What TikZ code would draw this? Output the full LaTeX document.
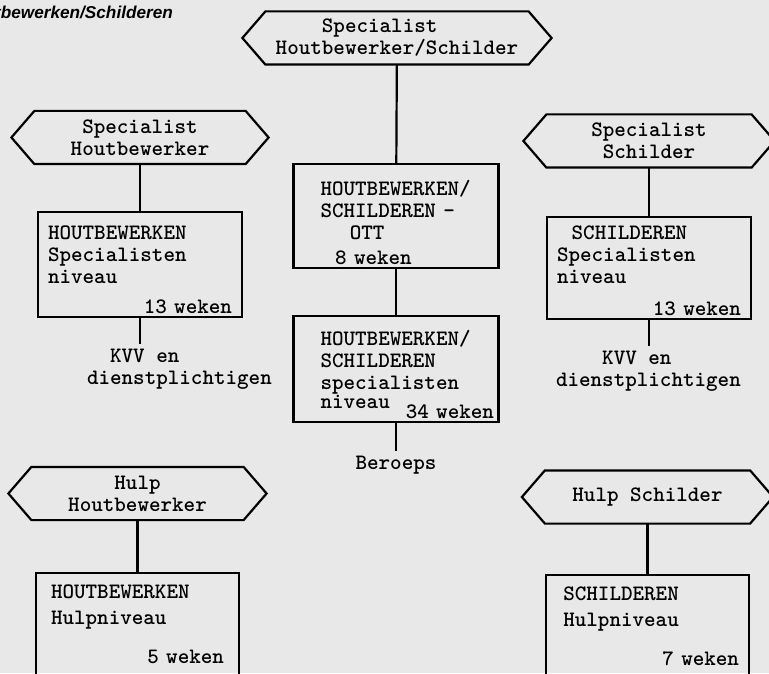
\documentclass[tikz,border=0pt]{standalone}
\usepackage{fontspec}
\newfontfamily\headfont{Liberation Sans}
\newfontfamily\typewriter{lmmonolt10-bold.otf}
\newcommand{\typefont}{\fontsize{11}{11}\selectfont\typewriter}
\usepackage{tikz}
\usetikzlibrary{positioning}

\begin{document}
\begin{tikzpicture}[x=0.5pt,y=-0.5pt,line width=1.1pt,
	hex node/.style={font=\typefont,align=center,minimum height=25.5pt,inner sep=0pt},
	box node/.style={draw,font=\typefont,align=left,inner xsep=5pt,inner ysep=1.5pt,text width=92pt},
	text node/.style={font=\typefont,align=left,inner sep=2pt}]

	\path[use as bounding box,fill=black!9] (0,0) rectangle (769,673);

	\node[anchor=base east,inner sep=0pt,font=\fontsize{8.6}{10}\selectfont\headfont\bfseries\itshape] (0) at (174,19) {Houtbewerken/Schilderen};

	% middle column
	\node[hex node,align=left,minimum width=130.5pt] (1) at (397,38) {~~~~Specialist\\Houtbewerker/Schilder};
	\node[box node,inner xsep=13.5pt,text width=75.5pt] (2) at (396,216) {\rule{0pt}{14.5pt}HOUTBEWERKEN/\\SCHILDEREN -\\~~~~OTT\\[1.5pt]~~8 weken};
	\node[box node,inner xsep=13.5pt,text width=75.5pt] (3) at (396,369) {\rule{0pt}{13pt}HOUTBEWERKEN/\\SCHILDEREN\\specialisten\\[-1.5pt]niveau\hspace*{8pt}\rlap{\raisebox{-5pt}{34 weken}}};
	\node[text node] (4) [below=14pt of 3] {Beroeps};

	% left column
	\node[hex node,minimum width=104.5pt] (5) at (140,137.5) {Specialist\\Houtbewerker};
	\node[box node] (6) at (140,264.5) {\rule{0pt}{12.5pt}HOUTBEWERKEN\\Specialisten\\niveau\\[4pt]\hfill 13 weken};
	\node[text node] (7) [below right=13pt and 22.5pt of 6.south west] {~~KVV en\\dienstplichtigen};

	% right column
	\node[hex node,minimum width=101.5pt] (8) at (649,141) {Specialist\\Schilder};
	\node[box node] (9) at (649,268) {\rule{0pt}{10pt}~~SCHILDEREN\\Specialisten\\niveau\\[5pt]\hfill 13 weken};
	\node[text node] (10) [below right=12.8pt and 2.5pt of 9.south west] {~~~~KVV en\\dienstplichtigen};

	% hulp niveau
	\node[hex node,minimum width=105pt] (11) at (137.5,493.5) {Hulp\\Houtbewerker};
	\node[box node,inner xsep=7.5pt,inner ysep=6pt,text width=86.5pt] (12) at (137.5,624.2) {HOUTBEWERKEN\\[2pt]Hulpniveau\\[8.5pt]\hfill 5 weken};
	\node[hex node,minimum width=101.5pt] (13) at (647.5,497) {Hulp Schilder};
	\node[box node,inner ysep=6pt,text width=91.5pt] (14) at (647.5,626.2) {~SCHILDEREN\\[2pt]~Hulpniveau\\[8.5pt]\hfill 7 weken};

	\foreach \n in {1,5,8,11,13}
		\draw (\n.north west) -- ([xshift=-11.5pt]\n.west) -- (\n.south west) -- (\n.south east) -- ([xshift=11.5pt]\n.east) -- (\n.north east) -- cycle;

	\path
	(1) edge (2)
	(2) edge (3)
	(3) edge (4)
	(5) edge (6)
	(6) edge (6 |- 7.north)
	(8) edge (9)
	(9) edge (9 |- 10.north)
	(11) edge (12)
	(13) edge (14);
\end{tikzpicture}
\end{document}
